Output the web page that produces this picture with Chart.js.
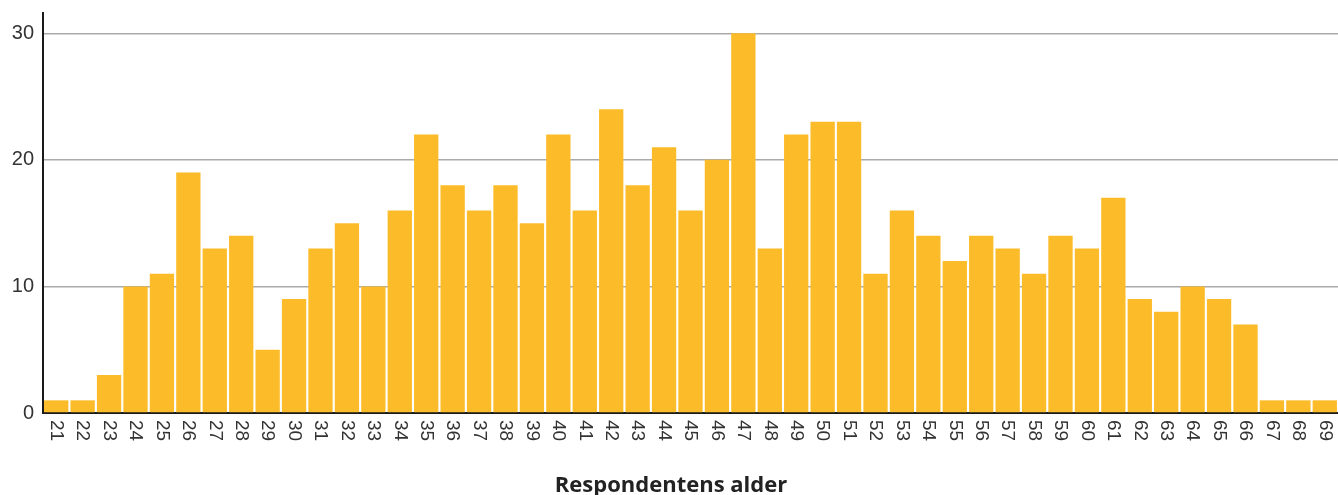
<!DOCTYPE html>
<html>
<head>
<meta charset="utf-8">
<script src="https://cdn.jsdelivr.net/npm/chart.js@4/dist/chart.umd.min.js"></script>
<style>
  html, body { margin: 0; padding: 0; background: #fff; }
  #wrap { width: 1338px; height: 495px; position: relative; }
</style>
</head>
<body>
<div id="wrap"><canvas id="mainChart"></canvas></div>
<script>
const ages = ['21','22','23','24','25','26','27','28','29','30','31','32','33','34','35','36','37','38','39','40',
  '41','42','43','44','45','46','47','48','49','50','51','52','53','54','55','56','57','58','59','60',
  '61','62','63','64','65','66','67','68','69'];
const counts = [1,1,3,10,11,19,13,14,5,9,13,15,10,16,22,18,16,18,15,22,
  16,24,18,21,16,20,30,13,22,23,23,11,16,14,12,14,13,11,14,13,
  17,9,8,10,9,7,1,1,1];
const yTicks = [0, 10, 20, 30];
const xTitle = 'Respondentens alder';

const barColor = '#fcbc29';
const textColor = '#333333';

// x labels read top-to-bottom, so draw them ourselves
const xLabelPlugin = {
  id: 'xLabels',
  afterDraw(chart) {
    const ctx = chart.ctx;
    const x = chart.scales.x;
    const area = chart.chartArea;
    ctx.save();
    ctx.fillStyle = textColor;
    ctx.font = '19px "Liberation Sans", Arial, sans-serif';
    ctx.textAlign = 'left';
    ctx.textBaseline = 'middle';
    ages.forEach((lab, i) => {
      const px = x.getPixelForTick(i);
      ctx.save();
      ctx.translate(px, area.bottom + 7);
      ctx.rotate(Math.PI / 2);
      ctx.fillText(lab, 0, 0);
      ctx.restore();
    });
    ctx.font = 'bold 22px "Open Sans", "Liberation Sans", sans-serif';
    ctx.textAlign = 'center';
    ctx.textBaseline = 'alphabetic';
    ctx.fillStyle = '#222';
    ctx.fillText(xTitle, chart.width / 2 + 2, 492);
    ctx.restore();
  }
};

document.addEventListener('DOMContentLoaded', () => {
  const ctx = document.getElementById('mainChart').getContext('2d');
  new Chart(ctx, {
    type: 'bar',
    data: {
      labels: ages,
      datasets: [{
        data: counts,
        backgroundColor: barColor,
        borderWidth: 0,
        barPercentage: 0.92,
        categoryPercentage: 1.0
      }]
    },
    options: {
      responsive: true,
      maintainAspectRatio: false,
      animation: false,
      layout: { padding: { top: 13, bottom: 82, right: 0, left: 0 } },
      plugins: {
        legend: { display: false },
        tooltip: { enabled: false }
      },
      scales: {
        x: {
          grid: { display: false, drawTicks: false },
          border: { display: true, color: '#1a1a1a', width: 2 },
          ticks: { display: false }
        },
        y: {
          min: 0,
          max: 31.6,
          afterFit: s => { s.width = 43; s.paddingTop = 0; s.paddingBottom = 0; },
          afterBuildTicks: s => { s.ticks = yTicks.map(v => ({ value: v })); },
          border: { display: true, color: '#1a1a1a', width: 2 },
          grid: {
            color: ctx => ctx.tick && ctx.tick.value === 0 ? 'rgba(0,0,0,0)' : '#aaaaaa',
            lineWidth: 1.5,
            drawTicks: false
          },
          ticks: {
            color: textColor,
            padding: 9,
            font: { size: 20, family: '"Liberation Sans", Arial, sans-serif' }
          }
        }
      }
    },
    plugins: [xLabelPlugin]
  });
});
</script>
</body>
</html>
